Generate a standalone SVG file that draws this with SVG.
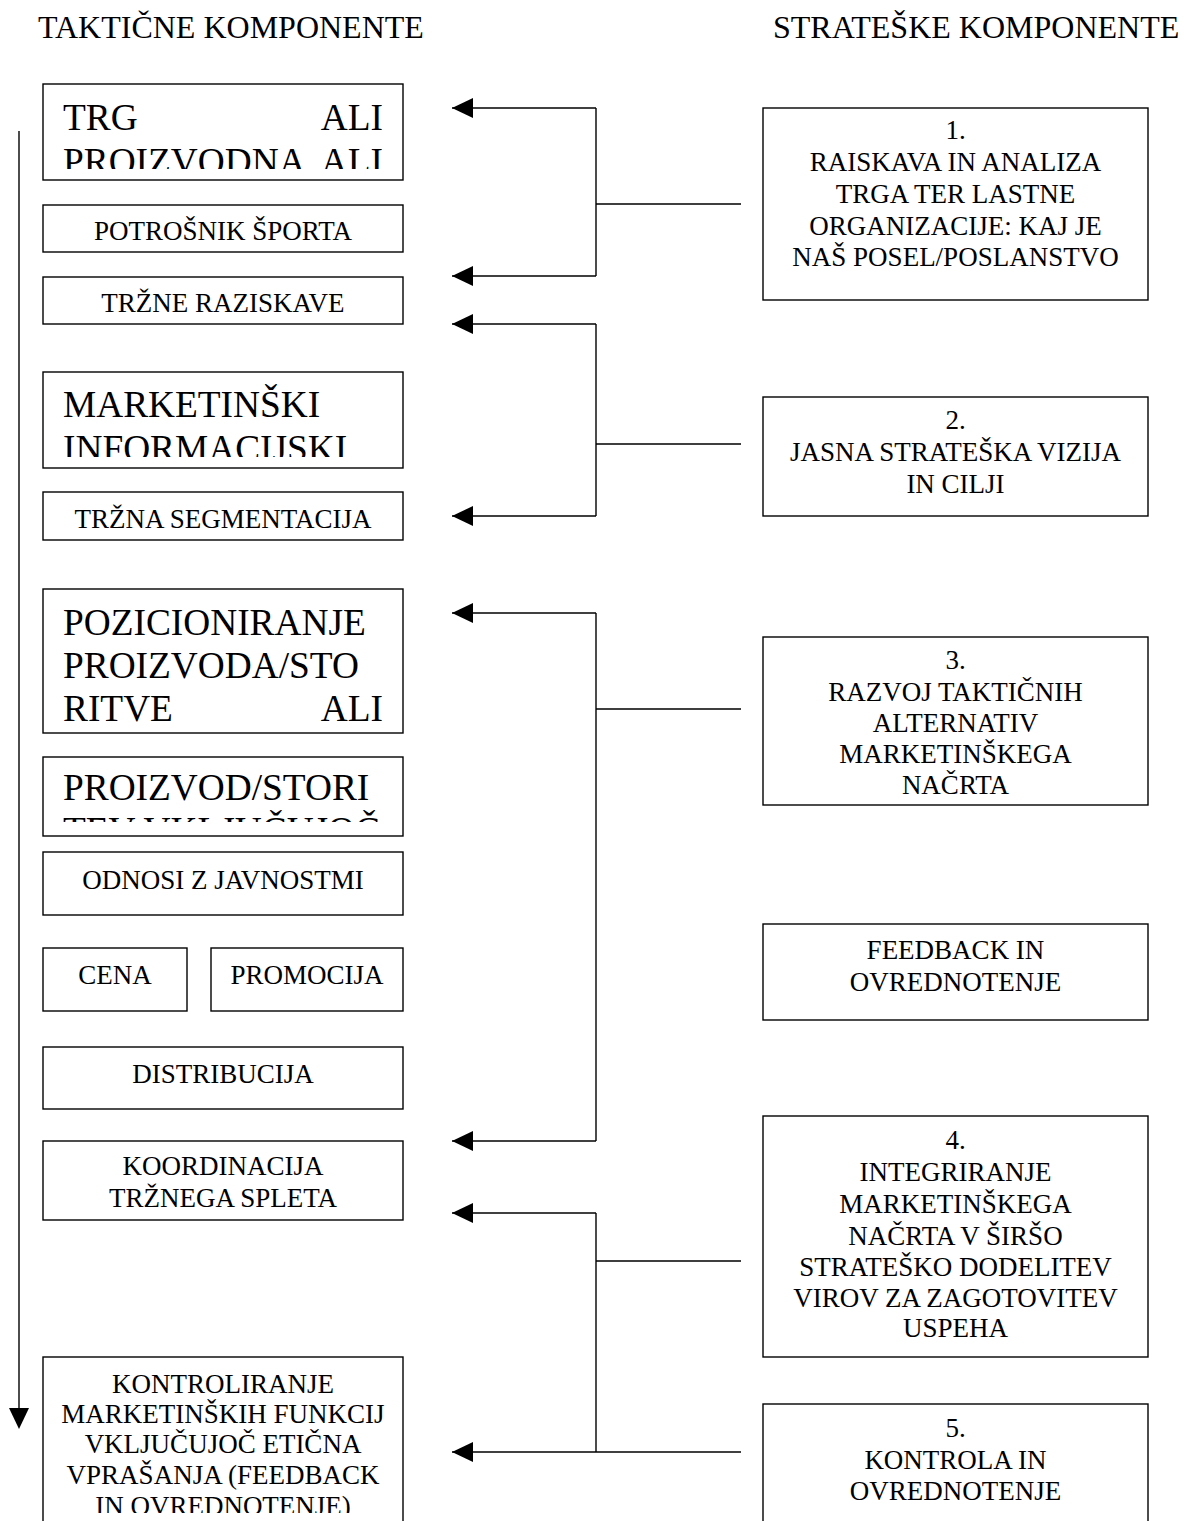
<svg xmlns="http://www.w3.org/2000/svg" width="1192" height="1521" viewBox="0 0 1192 1521">
<style>
  .box { fill: #fff; stroke: #000; stroke-width: 1.4; }
  .t { font-family: "Liberation Serif", "Times New Roman", serif; font-size: 27px; fill: #000; text-anchor: middle; }
  .big { font-family: "Liberation Serif", "Times New Roman", serif; font-size: 37.33px; fill: #000; }
  .end { text-anchor: end; }
  .title { font-family: "Liberation Serif", "Times New Roman", serif; font-size: 32px; fill: #000; }
  .conn { fill: none; stroke: #000; stroke-width: 1.4; }
</style>
<defs>
  <marker id="ah" viewBox="0 0 21 20" refX="21" refY="10" markerWidth="21" markerHeight="20" markerUnits="userSpaceOnUse" orient="auto">
    <path d="M0,0 L21,10 L0,20 Z" fill="#000"/>
  </marker>
  <clipPath id="c1"><rect x="44" y="85" width="358" height="84"/></clipPath>
  <clipPath id="c2"><rect x="44" y="373" width="358" height="84"/></clipPath>
  <clipPath id="c3"><rect x="44" y="590" width="358" height="133"/></clipPath>
  <clipPath id="c4"><rect x="44" y="758" width="358" height="64"/></clipPath>
  <clipPath id="c5"><rect x="44" y="1358" width="358" height="155"/></clipPath>
</defs>
<rect width="1192" height="1521" fill="#fff"/>

<text class="title" x="38" y="38">TAKTIČNE KOMPONENTE</text>
<text class="title" x="773" y="38">STRATEŠKE KOMPONENTE</text>

<g id="connectors">
  <path class="conn" d="M19,131 V1408"/>
  <path d="M9,1408 L29,1408 L19,1429 Z" fill="#000"/>
  <path class="conn" d="M741,204 H596 M596,108 V276"/>
  <path class="conn" d="M596,108 H452" marker-end="url(#ah)"/>
  <path class="conn" d="M596,276 H452" marker-end="url(#ah)"/>
  <path class="conn" d="M741,444 H596 M596,324 V516"/>
  <path class="conn" d="M596,324 H452" marker-end="url(#ah)"/>
  <path class="conn" d="M596,516 H452" marker-end="url(#ah)"/>
  <path class="conn" d="M741,709 H596 M596,613 V1141"/>
  <path class="conn" d="M596,613 H452" marker-end="url(#ah)"/>
  <path class="conn" d="M596,1141 H452" marker-end="url(#ah)"/>
  <path class="conn" d="M741,1261 H596 M596,1213 V1452"/>
  <path class="conn" d="M596,1213 H452" marker-end="url(#ah)"/>
  <path class="conn" d="M741,1452 H452" marker-end="url(#ah)"/>
</g>

<g id="trg">
  <rect class="box" x="43" y="84" width="360" height="96"/>
  <g clip-path="url(#c1)">
    <text class="big" x="63" y="130">TRG</text>
    <text class="big end" x="383" y="130">ALI</text>
    <text class="big" x="63" y="173.5">PROIZVODNA</text>
    <text class="big end" x="383" y="173.5">ALI</text>
  </g>
</g>
<g id="potrosnik">
  <rect class="box" x="43" y="205" width="360" height="47"/>
  <text class="t" x="223" y="240">POTROŠNIK ŠPORTA</text>
</g>
<g id="trzne-raziskave">
  <rect class="box" x="43" y="277" width="360" height="47"/>
  <text class="t" x="223" y="312">TRŽNE RAZISKAVE</text>
</g>
<g id="mis">
  <rect class="box" x="43" y="372" width="360" height="96"/>
  <g clip-path="url(#c2)">
    <text class="big" x="63" y="417">MARKETINŠKI</text>
    <text class="big" x="63" y="461">INFORMACIJSKI</text>
  </g>
</g>
<g id="segmentacija">
  <rect class="box" x="43" y="492" width="360" height="48"/>
  <text class="t" x="223" y="528">TRŽNA SEGMENTACIJA</text>
</g>
<g id="pozicioniranje">
  <rect class="box" x="43" y="589" width="360" height="144"/>
  <g clip-path="url(#c3)">
    <text class="big" x="63" y="635">POZICIONIRANJE</text>
    <text class="big" x="63" y="678">PROIZVODA/STO</text>
    <text class="big" x="63" y="721">RITVE</text>
    <text class="big end" x="383" y="721">ALI</text>
  </g>
</g>
<g id="proizvod">
  <rect class="box" x="43" y="757" width="360" height="79"/>
  <g clip-path="url(#c4)">
    <text class="big" x="63" y="800">PROIZVOD/STORI</text>
    <text class="big" x="63" y="843">TEV VKLJUČUJOČ</text>
  </g>
</g>
<g id="odnosi">
  <rect class="box" x="43" y="852" width="360" height="63"/>
  <text class="t" x="223" y="889">ODNOSI Z JAVNOSTMI</text>
</g>
<g id="cena">
  <rect class="box" x="43" y="948" width="144" height="63"/>
  <text class="t" x="115" y="984">CENA</text>
</g>
<g id="promocija">
  <rect class="box" x="211" y="948" width="192" height="63"/>
  <text class="t" x="307" y="984">PROMOCIJA</text>
</g>
<g id="distribucija">
  <rect class="box" x="43" y="1047" width="360" height="62"/>
  <text class="t" x="223" y="1083">DISTRIBUCIJA</text>
</g>
<g id="koordinacija">
  <rect class="box" x="43" y="1141" width="360" height="79"/>
  <text class="t" x="223" y="1175">KOORDINACIJA</text>
  <text class="t" x="223" y="1207">TRŽNEGA SPLETA</text>
</g>
<g id="kontroliranje">
  <rect class="box" x="43" y="1357" width="360" height="170"/>
  <g clip-path="url(#c5)">
    <text class="t" x="223" y="1393">KONTROLIRANJE</text>
    <text class="t" x="223" y="1423">MARKETINŠKIH FUNKCIJ</text>
    <text class="t" x="223" y="1453">VKLJUČUJOČ ETIČNA</text>
    <text class="t" x="223" y="1484">VPRAŠANJA (FEEDBACK</text>
    <text class="t" x="223" y="1515">IN OVREDNOTENJE)</text>
  </g>
</g>

<g id="s1">
  <rect class="box" x="763" y="108" width="385" height="192"/>
  <text class="t" x="955.5" y="139">1.</text>
  <text class="t" x="955.5" y="171">RAISKAVA IN ANALIZA</text>
  <text class="t" x="955.5" y="203">TRGA TER LASTNE</text>
  <text class="t" x="955.5" y="235">ORGANIZACIJE: KAJ JE</text>
  <text class="t" x="955.5" y="266">NAŠ POSEL/POSLANSTVO</text>
</g>
<g id="s2">
  <rect class="box" x="763" y="397" width="385" height="119"/>
  <text class="t" x="955.5" y="429">2.</text>
  <text class="t" x="955.5" y="461">JASNA STRATEŠKA VIZIJA</text>
  <text class="t" x="955.5" y="493">IN CILJI</text>
</g>
<g id="s3">
  <rect class="box" x="763" y="637" width="385" height="168"/>
  <text class="t" x="955.5" y="669">3.</text>
  <text class="t" x="955.5" y="701">RAZVOJ TAKTIČNIH</text>
  <text class="t" x="955.5" y="732">ALTERNATIV</text>
  <text class="t" x="955.5" y="763">MARKETINŠKEGA</text>
  <text class="t" x="955.5" y="794">NAČRTA</text>
</g>
<g id="feedback">
  <rect class="box" x="763" y="924" width="385" height="96"/>
  <text class="t" x="955.5" y="959">FEEDBACK IN</text>
  <text class="t" x="955.5" y="991">OVREDNOTENJE</text>
</g>
<g id="s4">
  <rect class="box" x="763" y="1116" width="385" height="241"/>
  <text class="t" x="955.5" y="1149">4.</text>
  <text class="t" x="955.5" y="1181">INTEGRIRANJE</text>
  <text class="t" x="955.5" y="1213">MARKETINŠKEGA</text>
  <text class="t" x="955.5" y="1245">NAČRTA V ŠIRŠO</text>
  <text class="t" x="955.5" y="1276">STRATEŠKO DODELITEV</text>
  <text class="t" x="955.5" y="1307">VIROV ZA ZAGOTOVITEV</text>
  <text class="t" x="955.5" y="1337">USPEHA</text>
</g>
<g id="s5">
  <rect class="box" x="763" y="1404" width="385" height="123"/>
  <text class="t" x="955.5" y="1437">5.</text>
  <text class="t" x="955.5" y="1469">KONTROLA IN</text>
  <text class="t" x="955.5" y="1500">OVREDNOTENJE</text>
</g>
</svg>
